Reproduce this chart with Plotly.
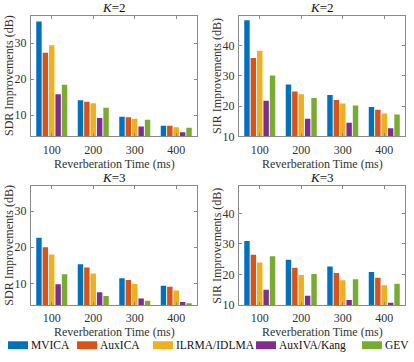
import plotly.graph_objects as go
from plotly.subplots import make_subplots

W, H = 414, 362

rt = ["100", "200", "300", "400"]
methods = ["MVICA", "AuxICA", "ILRMA/IDLMA", "AuxIVA/Kang", "GEV"]
colors = ["#0072BD", "#D95319", "#EDB120", "#7E2F8E", "#77AC30"]

# SDR improvements, K=2
sdr_k2 = {
    "MVICA": [36.0, 14.1, 9.5, 7.0],
    "AuxICA": [27.3, 13.7, 9.4, 7.0],
    "ILRMA/IDLMA": [29.4, 13.3, 9.0, 6.6],
    "AuxIVA/Kang": [15.8, 9.2, 6.8, 5.2],
    "GEV": [18.4, 12.0, 8.7, 6.5],
}
# SIR improvements, K=2
sir_k2 = {
    "MVICA": [48.3, 27.1, 23.6, 19.7],
    "AuxICA": [35.8, 24.8, 22.0, 18.8],
    "ILRMA/IDLMA": [38.2, 23.9, 20.8, 17.5],
    "AuxIVA/Kang": [21.7, 15.8, 14.5, 12.7],
    "GEV": [30.1, 22.6, 20.2, 17.2],
}
# SDR improvements, K=3
sdr_k3 = {
    "MVICA": [22.6, 15.3, 11.5, 9.4],
    "AuxICA": [20.0, 14.4, 11.0, 9.1],
    "ILRMA/IDLMA": [18.0, 12.8, 9.9, 8.1],
    "AuxIVA/Kang": [9.8, 7.6, 5.9, 4.9],
    "GEV": [12.6, 6.6, 5.3, 4.6],
}
# SIR improvements, K=3
sir_k3 = {
    "MVICA": [31.0, 24.8, 22.6, 20.8],
    "AuxICA": [26.5, 22.2, 20.5, 18.9],
    "ILRMA/IDLMA": [23.9, 19.8, 18.1, 16.5],
    "AuxIVA/Kang": [15.0, 13.0, 11.6, 10.7],
    "GEV": [26.0, 20.2, 18.4, 17.0],
}

FONT = "Liberation Serif"
TXT = "#333333"

def px_x(v):
    return v / W

def px_y(v):
    return 1 - v / H

fig = make_subplots(rows=2, cols=2)

panels = [
    (1, 1, sdr_k2, "SDR Improvements (dB)", "<i>K</i>=2", [4.1, 37.6], [10, 20, 30]),
    (1, 2, sir_k2, "SIR Improvements (dB)", "<i>K</i>=2", [10, 49.8], [10, 20, 30, 40]),
    (2, 1, sdr_k3, "SDR Improvements (dB)", "<i>K</i>=3", [4.1, 36.8], [10, 20, 30]),
    (2, 2, sir_k3, "SIR Improvements (dB)", "<i>K</i>=3", [10, 48.9], [10, 20, 30, 40]),
]

xdom = {1: [px_x(31), px_x(197)], 2: [px_x(239), px_x(405)]}
ydom = {1: [px_y(139), px_y(16)], 2: [px_y(311), px_y(190)]}
ytitle_x = {1: 9, 2: 217}
xtitle_y = {1: 167, 2: 339}
ktitle_y = {1: 8, 2: 181}

for r, c, data, ylab, title, yr, tv in panels:
    for m, col in zip(methods, colors):
        fig.add_trace(go.Bar(x=rt, y=data[m], name=m, marker_color=col,
                             marker_line_width=0, showlegend=False), row=r, col=c)
    fig.update_xaxes(domain=xdom[c], row=r, col=c, showline=True, mirror="ticks",
                     linecolor="#8a8a8a", linewidth=1, ticks="inside", ticklen=3,
                     tickcolor="#8a8a8a", showgrid=False, ticklabelstandoff=2,
                     tickfont=dict(family=FONT, size=12, color=TXT))
    fig.update_yaxes(domain=ydom[r], row=r, col=c, range=yr, tickvals=tv,
                     showline=True, mirror="ticks", linecolor="#8a8a8a", linewidth=1,
                     ticks="inside", ticklen=3, tickcolor="#8a8a8a", showgrid=False,
                     zeroline=False, ticklabelstandoff=1,
                     tickfont=dict(family=FONT, size=12, color=TXT))
    cx = (xdom[c][0] + xdom[c][1]) / 2
    cy = (ydom[r][0] + ydom[r][1]) / 2
    fig.add_annotation(x=cx, y=px_y(ktitle_y[r]), xref="paper", yref="paper",
                       text=title, showarrow=False, xanchor="center", yanchor="middle",
                       font=dict(family=FONT, size=13, color="#111"))
    fig.add_annotation(x=cx, y=px_y(xtitle_y[r]), xref="paper", yref="paper",
                       text="Reverberation Time (ms)", showarrow=False,
                       xanchor="center", yanchor="middle",
                       font=dict(family=FONT, size=12, color=TXT))
    fig.add_annotation(x=px_x(ytitle_x[c]), y=cy, xref="paper", yref="paper",
                       text=ylab, showarrow=False, textangle=-90,
                       xanchor="center", yanchor="middle",
                       font=dict(family=FONT, size=12, color=TXT))

# legend drawn as boxes + labels
leg_x = [8, 77, 153, 256, 362]
for m, col, lx in zip(methods, colors, leg_x):
    fig.add_shape(type="rect", xref="paper", yref="paper",
                  x0=px_x(lx), x1=px_x(lx + 20), y0=px_y(356), y1=px_y(348),
                  fillcolor=col, line_width=0)
    fig.add_annotation(x=px_x(lx + 21), y=px_y(352), xref="paper", yref="paper",
                       text=m, showarrow=False, xanchor="left", yanchor="middle",
                       font=dict(family=FONT, size=11.5, color="#111"))

fig.update_layout(width=W, height=H, margin=dict(l=0, r=0, t=0, b=0),
                  plot_bgcolor="white", paper_bgcolor="white",
                  barmode="group", bargap=0.23, bargroupgap=0.15)

# page body has a default 8px margin; drop it so the figure sits at 0,0
fig.write_html("out.html", config={"displayModeBar": False},
               post_script="document.body.style.margin='0';")
